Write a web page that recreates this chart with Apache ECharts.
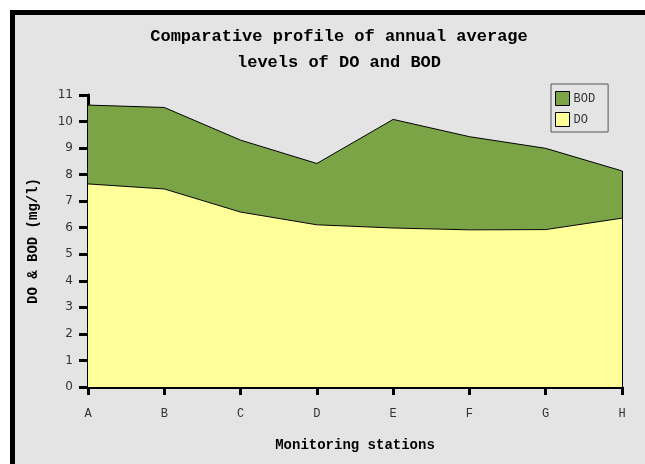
<!DOCTYPE html>
<html>
<head>
<meta charset="utf-8">
<script src="https://cdn.jsdelivr.net/npm/echarts@6/dist/echarts.min.js"></script>
<style>
html,body{margin:0;padding:0;background:#fff;}
#chart{width:645px;height:464px;}
</style>
</head>
<body>
<div id="chart"></div>
<script>
const stations = ['A','B','C','D','E','F','G','H'];
const doValues = [7.65, 7.46, 6.59, 6.11, 5.99, 5.92, 5.93, 6.36];
const bodValues = [2.97, 3.07, 2.71, 2.31, 4.09, 3.51, 3.06, 1.78];
const yTicks = [0,1,2,3,4,5,6,7,8,9,10,11];
const titleLines = ['Comparative profile of annual average', 'levels of DO and BOD'];

const lastIdx = stations.length - 1;
const lastTotal = doValues[lastIdx] + bodValues[lastIdx];

const chart = echarts.init(document.getElementById('chart'));
chart.setOption({
  animation: false,
  backgroundColor: 'transparent',
  graphic: [{
    type: 'rect', z: -10, silent: true,
    shape: {x: 12.5, y: 12.5, width: 700, height: 500},
    style: {fill: '#e4e4e4', stroke: '#000', lineWidth: 5}
  }],
  title: {
    text: titleLines.join('\n'),
    left: 334, top: 19, textAlign: 'center',
    textStyle: {fontFamily: 'Liberation Mono', fontWeight: 'bold', fontSize: 17, lineHeight: 26, color: '#000'}
  },
  legend: {
    orient: 'vertical', left: 551, top: 84,
    padding: [7, 13, 5, 4], itemGap: 6,
    borderColor: '#555', borderWidth: 1,
    icon: 'rect', itemWidth: 14, itemHeight: 14,
    itemStyle: {borderColor: '#000', borderWidth: 1},
    textStyle: {fontFamily: 'Liberation Mono', fontSize: 12, color: '#333', padding: [0,0,0,-1]},
    data: ['BOD', 'DO']
  },
  grid: {left: 88, right: 23, top: 95, bottom: 77, containLabel: false},
  xAxis: {
    type: 'category', data: stations, boundaryGap: false,
    name: 'Monitoring stations', nameLocation: 'middle', nameGap: 51,
    nameTextStyle: {fontFamily: 'Liberation Mono', fontWeight: 'bold', fontSize: 14, color: '#000'},
    axisLine: {lineStyle: {color: '#000', width: 3}},
    axisTick: {show: true, length: 8, lineStyle: {color: '#000', width: 3}},
    axisLabel: {fontFamily: 'Liberation Mono', fontSize: 12, color: '#333', margin: 21},
    splitLine: {show: false}
  },
  yAxis: {
    type: 'value', min: yTicks[0], max: yTicks[yTicks.length-1], interval: 1,
    name: 'DO & BOD (mg/l)', nameLocation: 'middle', nameGap: 48, nameRotate: 90,
    nameTextStyle: {fontFamily: 'Liberation Mono', fontWeight: 'bold', fontSize: 14, color: '#000'},
    axisLine: {show: true, lineStyle: {color: '#000', width: 3}},
    axisTick: {show: true, length: 9, lineStyle: {color: '#000', width: 3}},
    axisLabel: {fontFamily: 'DejaVu Sans', fontSize: 12, color: '#333', margin: 15},
    splitLine: {show: false}
  },
  series: [
    {
      name: 'DO', type: 'line', stack: 'total', data: doValues,
      showSymbol: false, symbol: 'none',
      lineStyle: {color: '#000', width: 1},
      itemStyle: {color: '#ffff99'},
      areaStyle: {color: '#ffff99', opacity: 1},
      z: 2
    },
    {
      name: 'BOD', type: 'line', stack: 'total', data: bodValues,
      showSymbol: false, symbol: 'none',
      lineStyle: {color: '#000', width: 1},
      itemStyle: {color: '#7ba446'},
      areaStyle: {color: '#7ba446', opacity: 1},
      markLine: {
        silent: true, symbol: 'none', animation: false,
        label: {show: false},
        lineStyle: {color: '#000', width: 1, type: 'solid'},
        data: [[{coord: [stations[lastIdx], 0]}, {coord: [stations[lastIdx], lastTotal]}]]
      },
      z: 1
    }
  ]
});
</script>
</body>
</html>
